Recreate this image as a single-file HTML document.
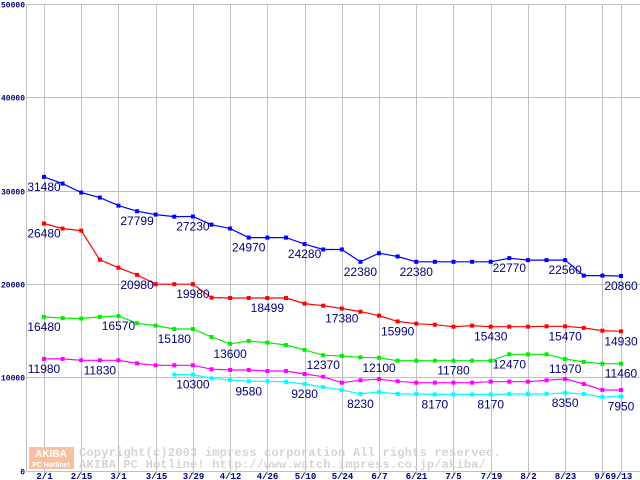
<!DOCTYPE html>
<html><head><meta charset="utf-8"><style>
html,body{margin:0;padding:0;background:#fff;}
svg{display:block;}
</style></head><body>
<svg id="chart" width="640" height="480" viewBox="0 0 640 480" xmlns="http://www.w3.org/2000/svg">
<g id="grid"></g>
<g id="axes"></g>
<g id="watermark">
<rect x="29" y="447" width="45" height="22" fill="#f8c0a0"/>
<text x="51" y="457" font-family="Liberation Sans, sans-serif" font-weight="bold" font-size="10" fill="#fff" text-anchor="middle">AKIBA</text>
<text x="51" y="467" font-family="Liberation Sans, sans-serif" font-weight="bold" font-size="7" fill="#fff" text-anchor="middle">PC Hotline!</text>
<text x="79" y="456" font-family="Liberation Mono, monospace" font-weight="bold" font-size="12" letter-spacing="0.2" fill="#d4d4d4">Copyright(c)2003 impress corporation All rights reserved.</text>
<text x="79" y="468" font-family="Liberation Mono, monospace" font-weight="bold" font-size="12" letter-spacing="0.2" fill="#d4d4d4">AKIBA PC Hotline!  http://www.watch.impress.co.jp/akiba/</text>
</g>
<g id="series"></g>
<g id="labels"></g>
</svg>
<script>
const xTickLabels = ["2/1","2/15","3/1","3/15","3/29","4/12","4/26","5/10","5/24","6/7","6/21","7/5","7/19","8/2","8/23","9/6","9/13"];
const xTickIndex = [0,2,4,6,8,10,12,14,16,18,20,22,24,26,28,30,31];
const yTicks = [0,10000,20000,30000,40000,50000];
const blueValues = [31480,30760,29800,29260,28400,27799,27440,27220,27230,26360,25940,24970,24970,24970,24280,23700,23700,22380,23300,22950,22380,22380,22380,22380,22380,22770,22560,22560,22560,20900,20900,20860];
const redValues = [26480,25940,25720,22600,21750,20980,19980,19980,19980,18540,18499,18499,18499,18499,17900,17680,17380,17040,16610,15990,15750,15640,15430,15540,15430,15430,15430,15470,15470,15300,15000,14930];
const greenValues = [16480,16350,16300,16480,16570,15800,15540,15180,15180,14330,13600,13900,13720,13470,12940,12370,12290,12150,12100,11790,11780,11780,11780,11780,11780,12470,12470,12470,11970,11650,11460,11460];
const magentaValues = [11980,11980,11830,11830,11830,11500,11290,11290,11290,10870,10790,10790,10680,10680,10360,10070,9430,9690,9800,9580,9430,9430,9430,9430,9540,9540,9540,9690,9830,9290,8650,8650];
const cyanValues = [null,null,null,null,null,null,null,10300,10300,9900,9720,9580,9580,9510,9280,8970,8650,8230,8430,8220,8220,8170,8170,8170,8170,8220,8220,8220,8350,8220,7900,7950];
const blueLabelIdx = [0,5,8,11,14,17,20,25,28,31];
const redLabelIdx = [0,5,8,12,16,19,24,28,31];
const greenLabelIdx = [0,4,7,10,15,18,22,25,28,31];
const magentaLabelIdx = [0,3];
const cyanLabelIdx = [8,11,14,17,21,24,28,31];

const NS = "http://www.w3.org/2000/svg";
function xS(i){ return 44 + i*(621-44)/31; }
function yS(v){ return 470.7 - v*(466.7/50000); }
function mk(tag, attrs, parent){ const e=document.createElementNS(NS,tag); for(const k in attrs) e.setAttribute(k,attrs[k]); parent.appendChild(e); return e; }

const grid=document.getElementById('grid'), axes=document.getElementById('axes');
yTicks.forEach(t=>{
  const y=Math.round(yS(t))+0.5;
  const l=mk('line',{x1:26,x2:640,y1:y,y2:y,stroke:'#c0c0c0','stroke-width':1},grid);
  
  
  const tx=mk('text',{x:25,y:y+3,'text-anchor':'end','font-family':'Liberation Mono, monospace','font-weight':'bold','font-size':'8',fill:'#000080'},axes);
  tx.textContent=String(t);
  
  
});
xTickIndex.forEach((idx,k)=>{
  const x=Math.round(xS(idx))+0.5;
  const l=mk('line',{x1:x,x2:x,y1:4,y2:475,stroke:'#c0c0c0','stroke-width':1},grid);
  
  
  const tx=mk('text',{x:x,y:479,'text-anchor':'middle','font-family':'Liberation Mono, monospace','font-weight':'bold','font-size':'9',fill:'#000080'},axes);
  tx.textContent=xTickLabels[k];
  
  
});
const ax=mk('line',{x1:26.5,x2:26.5,y1:4,y2:472,stroke:'#c0c0c0','stroke-width':1},axes);



const series=document.getElementById('series'), labels=document.getElementById('labels');
function draw(vals,color,labelIdx,name){
  const g=mk('g',{},series);
  
  
  let pts=[];
  vals.forEach((v,i)=>{ if(v!==null) pts.push(xS(i).toFixed(1)+','+yS(v).toFixed(1)); });
  const pl=mk('polyline',{points:pts.join(' '),fill:'none',stroke:color,'stroke-width':1.2},g);
  
  
  vals.forEach((v,i)=>{ if(v===null) return;
    const r=mk('rect',{x:xS(i)-2,y:yS(v)-2,width:4,height:4,fill:color},g);
    
    
  });
  labelIdx.forEach(i=>{
    const t=mk('text',{x:xS(i),y:yS(vals[i])+14,'text-anchor':'middle','font-family':'Liberation Sans, sans-serif','font-size':'12',fill:'#000080'},labels);
    t.textContent=String(vals[i]);
    
    
  });
}
draw(blueValues,'#0000ff',blueLabelIdx,'blue');
draw(redValues,'#ff0000',redLabelIdx,'red');
draw(greenValues,'#00ee00',greenLabelIdx,'green');
draw(magentaValues,'#ff00ff',magentaLabelIdx,'magenta');
draw(cyanValues,'#00ffff',cyanLabelIdx,'cyan');
</script>
</body></html>
